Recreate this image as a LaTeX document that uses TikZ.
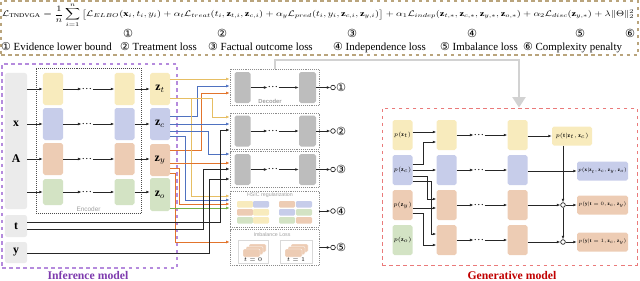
\documentclass[tikz,border=0pt]{standalone}
\usepackage{fontspec}
\usepackage{amsmath}
\usepackage{graphicx}
\setmainfont{Liberation Serif}
\setsansfont{Liberation Sans}
\newfontfamily\circfont{DejaVu Sans}
\usetikzlibrary{calc,arrows.meta}

\newcommand{\cnum}[1]{{\circfont #1}}

\definecolor{cYel}{HTML}{F8EBBD}
\definecolor{cBlu}{HTML}{C7CDEA}
\definecolor{cOra}{HTML}{EDCCB4}
\definecolor{cGrn}{HTML}{D3E3C4}
\definecolor{wYel}{HTML}{E6BE63}
\definecolor{wBlu}{HTML}{4F72C0}
\definecolor{wOra}{HTML}{E2742C}
\definecolor{wGrn}{HTML}{74B24A}
\definecolor{cGry}{HTML}{BDBDBD}
\definecolor{cIn}{HTML}{EBEBEB}
\definecolor{lnPur}{HTML}{B58BDD}
\definecolor{txPur}{HTML}{7E3BAE}
\definecolor{lnRed}{HTML}{EA7A7A}
\definecolor{txRed}{HTML}{C00000}
\definecolor{lnTan}{HTML}{B9A47C}

\tikzset{
  cell/.style={rounded corners=1.5pt, inner sep=0pt, minimum width=0.6cm, minimum height=0.96cm},
  yel/.style={cell, fill=cYel},
  blu/.style={cell, fill=cBlu},
  ora/.style={cell, fill=cOra},
  grn/.style={cell, fill=cGrn},
  gry/.style={cell, fill=cGry, minimum width=0.48cm, minimum height=0.93cm},
  gcell/.style={cell, minimum height=0.9cm, font=\tiny},
  outbox/.style={rounded corners=1.5pt, inner sep=0pt, minimum height=0.57cm, font=\tiny},
  inbox/.style={rounded corners=2pt, fill=cIn, inner sep=0pt, minimum width=0.66cm},
  dbox/.style={draw=gray!90, densely dotted, line width=0.6pt, minimum width=2.67cm, minimum height=1.08cm, inner sep=0pt},
  boxlab/.style={text=gray!75, font=\sffamily\fontsize{4.5}{5}\selectfont, inner sep=0pt},
  dotsn/.style={inner sep=0pt, font=\small},
  ring/.style={circle, draw, fill=white, inner sep=0pt, minimum size=4pt, line width=0.5pt},
  num/.style={font=\circfont\fontsize{9.5}{11}\selectfont, inner sep=0pt},
  legend/.style={anchor=base west, inner sep=0pt, font=\fontsize{9.3}{11}\selectfont},
  wire/.style={line width=0.6pt, ->},
  wy/.style={wire, wYel},
  wb/.style={wire, wBlu},
  wo/.style={wire, wOra},
  wg/.style={wire, wGrn},
  wk/.style={wire, black!85},
}

\begin{document}
\begin{tikzpicture}[x=0.03cm, y=-0.03cm, >={Latex[length=3pt,width=2.4pt]}]
    \useasboundingbox (0,0) rectangle (640,281);

    % Loss
    \node[draw=lnTan, dashed, line width=1pt, minimum width=19.11cm, minimum height=1.62cm] (loss) at (319.5,28) {};
    \node[anchor=north west, inner sep=0pt] (eq) at (2,3) {\resizebox*{18.95cm}{0.72cm}{$\displaystyle
      \mathcal{L}_{\mathrm{TNDVGA}}=\frac{1}{n}\sum_{i=1}^{n}\big[\mathcal{L}_{ELBO}(\mathbf{x}_i,t_i,y_i)
      +\alpha_t\mathcal{L}_{treat}(t_i,\mathbf{z}_{t,i},\mathbf{z}_{c,i})
      +\alpha_y\mathcal{L}_{pred}(t_i,y_i,\mathbf{z}_{c,i},\mathbf{z}_{y,i})\big]
      +\alpha_1\mathcal{L}_{indep}(\mathbf{z}_{t,*},\mathbf{z}_{c,*},\mathbf{z}_{y,*},\mathbf{z}_{o,*})
      +\alpha_2\mathcal{L}_{disc}(\mathbf{z}_{y,*})+\lambda\|\Theta\|_2^2$}};
    \node[num] (n1) at (128,33) {①};
    \node[num] (n2) at (222,33) {②};
    \node[num] (n3) at (352,33) {③};
    \node[num] (n4) at (472,33) {④};
    \node[num] (n5) at (580,33) {⑤};
    \node[num] (n6) at (630,33) {⑥};
    \node[legend] (lg1) at (1,50) {\cnum{①} Evidence lower bound};
    \node[legend] (lg2) at (120,50) {\cnum{②} Treatment loss};
    \node[legend] (lg3) at (208,50) {\cnum{③} Factual outcome loss};
    \node[legend] (lg4) at (333,50) {\cnum{④} Independence loss};
    \node[legend] (lg5) at (440,50) {\cnum{⑤} Imbalance loss};
    \node[legend] (lg6) at (523,50) {\cnum{⑥} Complexity penalty};

    % Inference model
    \node[draw=lnPur, dashed, line width=1pt, minimum width=5.25cm, minimum height=6.12cm] (inf) at (89.5,166) {};
    \node[text=txPur, font=\bfseries, anchor=base, inner sep=0pt] (inflab) at (88,279.5) {Inference model};
    \node[draw=black!70, densely dotted, line width=0.7pt, minimum width=3.15cm, minimum height=4.35cm] (enc) at (88.5,140.5) {};
    \node[boxlab, font=\sffamily\fontsize{5.5}{6}\selectfont] (enclab) at (88.5,209) {Encoder};

    \node[inbox, minimum height=4.08cm] (xa) at (16,141) {};
    \node (xlab) at (16,124) {\textbf{x}};
    \node (alab) at (16,159) {\textbf{A}};
    \node[inbox, minimum height=0.66cm] (tin) at (16,226) {\textbf{t}};
    \node[inbox, minimum height=0.63cm] (yin) at (16,252.5) {\textbf{y}};

    \node[yel] (e11) at (53,89) {};
    \node[dotsn] (ed1) at (87,89) {\dots};
    \node[yel] (e12) at (124.5,89) {};
    \node[yel] (zt) at (160,89) {$\mathbf{z}_t$};
    \node[blu] (e21) at (53,124) {};
    \node[dotsn] (ed2) at (87,124) {\dots};
    \node[blu] (e22) at (124.5,124) {};
    \node[blu] (zc) at (160,124) {$\mathbf{z}_c$};
    \node[ora] (e31) at (53,159) {};
    \node[dotsn] (ed3) at (87,159) {\dots};
    \node[ora] (e32) at (124.5,159) {};
    \node[ora] (zy) at (160,160) {$\mathbf{z}_y$};
    \node[grn, minimum height=0.78cm] (e41) at (53,192) {};
    \node[dotsn] (ed4) at (87,192) {\dots};
    \node[grn, minimum height=0.78cm] (e42) at (124.5,192) {};
    \node[grn, minimum height=0.99cm] (zo) at (160,194.5) {$\mathbf{z}_o$};

    \draw[wk] (xa.east |- e11) -- (e11);
    \draw[wk] (e11) -- (ed1);
    \draw[wk] (ed1) -- (e12);
    \draw[wk] (e12) -- (zt);
    \draw[wk] (xa.east |- e21) -- (e21);
    \draw[wk] (e21) -- (ed2);
    \draw[wk] (ed2) -- (e22);
    \draw[wk] (e22) -- (zc);
    \draw[wk] (xa.east |- e31) -- (e31);
    \draw[wk] (e31) -- (ed3);
    \draw[wk] (ed3) -- (e32);
    \draw[wk] (e32.east) -- (zy.west |- e32);
    \draw[wk] (xa.east |- e41) -- (e41);
    \draw[wk] (e41) -- (ed4);
    \draw[wk] (ed4) -- (e42);
    \draw[wk] (e42.east) -- (zo.west |- e42);

    % Decoders
    \node[dbox] (d1) at (274.5,87.5) {};
    \node[gry] (a1) at (242.5,87.5) {};
    \node[dotsn] (dd1) at (273,87.5) {\dots};
    \node[gry, minimum width=0.51cm] (b1) at (307.5,87.5) {};
    \node[boxlab, font=\sffamily\bfseries\fontsize{5}{6}\selectfont] (declab) at (270,101) {Decoder};
    \node[dbox] (d2) at (274.5,131) {};
    \node[gry] (a2) at (242.5,131) {};
    \node[dotsn] (dd2) at (273,131) {\dots};
    \node[gry, minimum width=0.51cm] (b2) at (307.5,131) {};
    \node[dbox] (d3) at (274.5,169.5) {};
    \node[gry] (a3) at (242.5,169.5) {};
    \node[dotsn] (dd3) at (273,169.5) {\dots};
    \node[gry, minimum width=0.51cm] (b3) at (307.5,169.5) {};
    \node[dbox] (hs) at (274.5,209) {};
    \node[boxlab] (hslab) at (270,195.5) {HSIC regularization};
    \node[dbox] (im) at (274.5,247.5) {};
    \node[boxlab] (imlab) at (272,235) {Imbalance Loss};

    \draw[wk] (a1) -- (dd1);
    \draw[wk] (dd1) -- (b1);
    \draw[wk] (a2) -- (dd2);
    \draw[wk] (dd2) -- (b2);
    \draw[wk] (a3) -- (dd3);
    \draw[wk] (dd3) -- (b3);

    % HSIC cells
    \foreach \xx/\yy/\cc in {237/201/cYel, 253/201/cBlu, 237/209/cOra, 253/209/cYel, 237/217/cGrn, 253/217/cYel,
                             279/201/cOra, 296/201/cBlu, 279/209/cBlu, 296/209/cGrn, 279/217/cGrn, 296/217/cOra}
      \fill[\cc, rounded corners=1pt] (\xx,\yy) rectangle ++(16,6.5);

    % Imbalance cards
    \draw[gray!30, line width=0.3pt] (238,240) rectangle (268,263);
    \draw[gray!30, line width=0.3pt] (280,240) rectangle (312,263);
    \foreach \xx in {243,285}
      \foreach \s in {2,1,0}
        \filldraw[fill=cOra, draw=white, line width=0.3pt, rounded corners=1pt] (\xx+3*\s,249-2.5*\s) rectangle ++(17,8);
    \node[font=\fontsize{4}{5}\selectfont, inner sep=0pt] (t0) at (253,260) {$t=0$};
    \node[font=\fontsize{4}{5}\selectfont, inner sep=0pt] (t1) at (296,260) {$t=1$};

    % Outputs of the losses
    \node[ring] (r1) at (333,87.5) {};
    \node[num, anchor=west] (o1) at (336,87.5) {①};
    \node[ring] (r2) at (333,131) {};
    \node[num, anchor=west] (o2) at (336,131) {②};
    \node[ring] (r3) at (333,169.5) {};
    \node[num, anchor=west] (o3) at (336,169.5) {③};
    \node[ring] (r4) at (333,211) {};
    \node[num, anchor=west] (o4) at (336,211) {④};
    \node[ring] (r5) at (333,247.5) {};
    \node[num, anchor=west] (o5) at (336,247.5) {⑤};
    \draw[wk] (b1) -- (r1);
    \draw[wk] (b2) -- (r2);
    \draw[wk] (b3) -- (r3);
    \draw[wk] (hs.east |- r4) -- (r4);
    \draw[wk] (im.east |- r5) -- (r5);

    % Wires from the latent factors
    \draw[wy] (zt.east |- 0,79) -- (d1.west |- 0,79);
    \draw[wb] (zc.east |- 0,116) -| (197,86) -- (d1.west |- 0,86);
    \draw[wo] (zy.east |- 0,150) -| (201,93) -- (d1.west |- 0,93);
    \draw[wy] (zt.east |- 0,98) -| (212,117) -- (d2.west |- 0,117);
    \draw[wy] (zt.east |- 0,98) -| (191,196) -- (hs.west |- 0,196);
    \draw[wb] (zc.east |- 0,124) -- (d2.west |- 0,124);
    \draw[wb] (zc.east |- 0,131) -| (208,154) -- (d3.west |- 0,154);
    \draw[wb] (zc.east |- 0,136) -| (185,200) -- (hs.west |- 0,200);
    \draw[wo] (zy.east |- 0,163) -- (d3.west |- 0,163);
    \draw[wo] (zy.east |- 0,168) -| (179,204) -- (hs.west |- 0,204);
    \draw[wo] (zy.east |- 0,173) -| (175,242) -- (im.west |- 0,242);
    \draw[wg] (zo.east |- 0,208) -- (hs.west |- 0,208);
    \draw[wk] (tin.east |- 0,222) -| (220,130) -- (d2.west |- 0,130);
    \draw[wk] (tin.east |- 0,229) -| (203,169) -- (d3.west |- 0,169);
    \draw[wk] (yin.east |- 0,253) -| (209,179) -- (d3.west |- 0,179);

    % Generative model
    \node[draw=lnRed, dashed, line width=0.7pt, minimum width=7.65cm, minimum height=4.71cm] (gen) at (509.5,186.5) {};
    \node[text=txRed, font=\bfseries, anchor=base, inner sep=0pt] (genlab) at (512,279.5) {Generative model};
    \draw[gray!35, line width=2.4pt, -{Triangle[length=9pt,width=11pt]}] (d1.north -| 275,0) |- (519,60) -- (gen.north -| 519,0);

    \node[gcell, fill=cYel] (pzt) at (402.5,135) {$p(\mathbf{z}_t)$};
    \node[gcell, fill=cBlu] (pzc) at (402.5,170) {$p(\mathbf{z}_c)$};
    \node[gcell, fill=cOra] (pzy) at (402.5,205) {$p(\mathbf{z}_y)$};
    \node[gcell, fill=cGrn] (pzo) at (402.5,240) {$p(\mathbf{z}_o)$};
    \node[gcell, fill=cYel] (ga1) at (446.5,135) {};
    \node[gcell, fill=cBlu] (ga2) at (446.5,170) {};
    \node[gcell, fill=cOra] (ga3) at (446.5,205) {};
    \node[gcell, fill=cOra] (ga4) at (446.5,240) {};
    \node[dotsn] (gd1) at (479,135) {\dots};
    \node[dotsn] (gd2) at (479,170) {\dots};
    \node[dotsn] (gd3) at (479,205) {\dots};
    \node[dotsn] (gd4) at (479,240) {\dots};
    \node[gcell, fill=cYel] (gb1) at (517.5,135) {};
    \node[gcell, fill=cBlu] (gb2) at (517.5,170) {};
    \node[gcell, fill=cOra] (gb3) at (517.5,205) {};
    \node[gcell, fill=cOra] (gb4) at (517.5,240) {};
    \node[outbox, fill=cYel, minimum width=1.2cm] (opt) at (572,136) {$p(\mathbf{t}|\mathbf{z}_t,\mathbf{z}_c)$};
    \node[outbox, fill=cBlu, minimum width=1.53cm] (opx) at (602.5,171) {\scalebox{0.85}{$p(\mathbf{x}|\mathbf{z}_t,\mathbf{z}_c,\mathbf{z}_y,\mathbf{z}_o)$}};
    \node[outbox, fill=cOra, minimum width=1.53cm] (opy0) at (602.5,205) {\scalebox{0.85}{$p(\mathbf{y}|\mathbf{t}=0,\mathbf{z}_c,\mathbf{z}_y)$}};
    \node[outbox, fill=cOra, minimum width=1.53cm] (opy1) at (602.5,242) {\scalebox{0.85}{$p(\mathbf{y}|\mathbf{t}=1,\mathbf{z}_c,\mathbf{z}_y)$}};
    \node[ring] (c3) at (563,205) {};
    \node[ring] (c4) at (563,242) {};

    \draw[wk] (pzt.east |- 0,132) -- (ga1.west |- 0,132);
    \draw[wk] (pzc.east |- 0,164) -| (423,142) -- (ga1.west |- 0,142);
    \draw[wk] (pzc) -- (ga2);
    \draw[wk] (pzc.east |- 0,176) -| (427,199) -- (ga3.west |- 0,199);
    \draw[wk] (pzc.east |- 0,181) -| (431,234) -- (ga4.west |- 0,234);
    \draw[wk] (pzy.east |- 0,208) -- (ga3.west |- 0,208);
    \draw[wk] (pzy.east |- 0,213) -| (423,245) -- (ga4.west |- 0,245);
    \draw[wk] (ga1) -- (gd1);
    \draw[wk] (gd1) -- (gb1);
    \draw[wk] (ga2) -- (gd2);
    \draw[wk] (gd2) -- (gb2);
    \draw[wk] (ga3) -- (gd3);
    \draw[wk] (gd3) -- (gb3);
    \draw[wk] (ga4) -- (gd4);
    \draw[wk] (gd4) -- (gb4);
    \draw[wk] (gb1.east |- opt) -- (opt);
    \draw[wk] (gb2.east |- opx) -- (opx);
    \draw[wk] (gb3) -- (c3);
    \draw[wk] (c3) -- (opy0);
    \draw[wk] (gb4.east |- c4) -- (c4);
    \draw[wk] (c4) -- (opy1);
    \draw[wk] (opt.south -| c3) -- (c3);
    \draw[wk] (c3) -- (c4);
\end{tikzpicture}
\end{document}
